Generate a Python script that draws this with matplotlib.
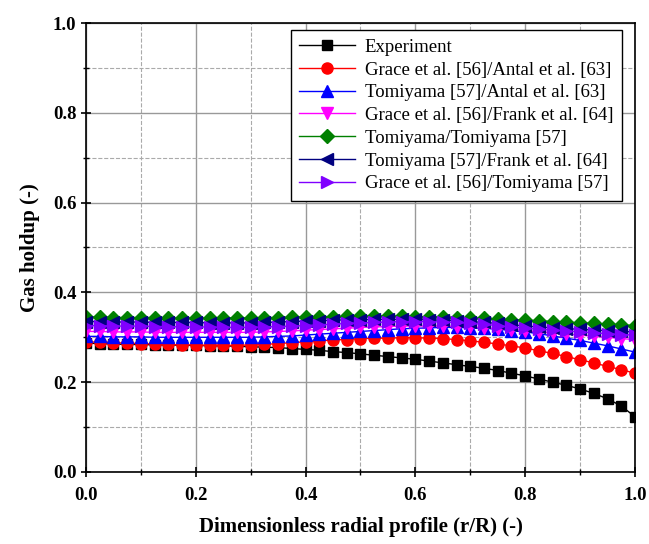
import numpy as np
import matplotlib
matplotlib.use("Agg")
import matplotlib.pyplot as plt
from matplotlib.ticker import MultipleLocator

r = np.round(np.arange(41) * 0.025, 3)

experiment = [0.287, 0.286, 0.285, 0.284, 0.284, 0.283, 0.283, 0.282, 0.282, 0.281,
              0.281, 0.280, 0.279, 0.278, 0.277, 0.275, 0.273, 0.271, 0.268, 0.266,
              0.263, 0.260, 0.257, 0.254, 0.251, 0.247, 0.243, 0.239, 0.235, 0.231,
              0.226, 0.220, 0.214, 0.207, 0.200, 0.193, 0.185, 0.175, 0.163, 0.147, 0.123]
grace_antal = [0.290, 0.289, 0.288, 0.287, 0.286, 0.285, 0.284, 0.283, 0.283, 0.282,
               0.282, 0.282, 0.283, 0.284, 0.286, 0.288, 0.290, 0.292, 0.294, 0.295,
               0.297, 0.298, 0.298, 0.299, 0.299, 0.298, 0.297, 0.295, 0.292, 0.289,
               0.285, 0.281, 0.276, 0.270, 0.264, 0.257, 0.250, 0.243, 0.235, 0.228, 0.220]
tomiyama_antal = [0.302, 0.302, 0.301, 0.301, 0.301, 0.300, 0.300, 0.300, 0.300, 0.300,
                  0.300, 0.300, 0.300, 0.301, 0.302, 0.303, 0.305, 0.307, 0.309, 0.311,
                  0.313, 0.315, 0.317, 0.319, 0.320, 0.321, 0.322, 0.322, 0.321, 0.320,
                  0.318, 0.315, 0.312, 0.308, 0.303, 0.298, 0.293, 0.287, 0.281, 0.274, 0.267]
grace_frank = [0.313, 0.313, 0.312, 0.312, 0.312, 0.311, 0.311, 0.311, 0.311, 0.311,
               0.311, 0.311, 0.311, 0.312, 0.313, 0.314, 0.316, 0.317, 0.319, 0.320,
               0.322, 0.323, 0.324, 0.325, 0.325, 0.325, 0.325, 0.324, 0.323, 0.321,
               0.319, 0.317, 0.315, 0.312, 0.310, 0.307, 0.305, 0.302, 0.300, 0.297, 0.295]
tomiyama_tomiyama = [0.345, 0.345, 0.344, 0.344, 0.344, 0.344, 0.343, 0.343, 0.343, 0.343,
                     0.343, 0.343, 0.343, 0.344, 0.344, 0.345, 0.345, 0.346, 0.346, 0.347,
                     0.347, 0.347, 0.347, 0.347, 0.346, 0.346, 0.345, 0.344, 0.343, 0.342,
                     0.341, 0.339, 0.338, 0.337, 0.335, 0.334, 0.332, 0.331, 0.329, 0.328, 0.326]
tomiyama_frank = [0.335, 0.335, 0.334, 0.334, 0.334, 0.333, 0.333, 0.333, 0.333, 0.332,
                  0.332, 0.332, 0.332, 0.333, 0.334, 0.335, 0.336, 0.337, 0.338, 0.339,
                  0.339, 0.340, 0.340, 0.340, 0.340, 0.339, 0.338, 0.337, 0.335, 0.333,
                  0.331, 0.328, 0.325, 0.323, 0.321, 0.319, 0.318, 0.316, 0.315, 0.313, 0.312]
grace_tomiyama = [0.326, 0.326, 0.325, 0.325, 0.325, 0.324, 0.324, 0.323, 0.323, 0.323,
                  0.322, 0.322, 0.322, 0.323, 0.324, 0.325, 0.326, 0.328, 0.329, 0.331,
                  0.332, 0.333, 0.334, 0.335, 0.335, 0.335, 0.334, 0.333, 0.331, 0.329,
                  0.326, 0.323, 0.320, 0.318, 0.316, 0.314, 0.312, 0.310, 0.308, 0.306, 0.305]

labels = ["Experiment",
          "Grace et al. [56]/Antal et al. [63]",
          "Tomiyama [57]/Antal et al. [63]",
          "Grace et al. [56]/Frank et al. [64]",
          "Tomiyama/Tomiyama [57]",
          "Tomiyama [57]/Frank et al. [64]",
          "Grace et al. [56]/Tomiyama [57]"]
series = [experiment, grace_antal, tomiyama_antal, grace_frank,
          tomiyama_tomiyama, tomiyama_frank, grace_tomiyama]
colors = ["black", "red", "blue", "magenta", "green", "#000080", "#8000ff"]
markers = ["s", "o", "^", "v", "D", "<", ">"]
msizes = [7, 8, 8, 8, 7, 8, 8]

plt.rcParams['font.family'] = ['Liberation Serif', 'DejaVu Serif']
fig = plt.figure(figsize=(6.49, 5.44), dpi=100)
ax = fig.add_axes([0.1325, 0.1324, 0.8459, 0.8253])

for y, c, m, ms, lab in zip(series, colors, markers, msizes, labels):
    ax.plot(r, y, color=c, marker=m, markersize=ms, linewidth=1.0,
            markeredgecolor=c, label=lab)

ax.set_xlim(0, 1.0)
ax.set_ylim(0, 1.0)
ax.xaxis.set_major_locator(MultipleLocator(0.2))
ax.xaxis.set_minor_locator(MultipleLocator(0.1))
ax.yaxis.set_major_locator(MultipleLocator(0.2))
ax.yaxis.set_minor_locator(MultipleLocator(0.1))
ax.grid(which='major', color='#999999', linestyle='-', linewidth=1.0)
ax.grid(which='minor', color='#aaaaaa', linestyle='--', linewidth=0.8)
ax.set_axisbelow(True)
ax.tick_params(which='major', direction='inout', length=7, width=1.2, labelsize=13.5)
ax.tick_params(which='minor', direction='inout', length=5, width=1.0)
ax.tick_params(axis='x', which='major', pad=7)
for lbl in ax.get_xticklabels() + ax.get_yticklabels():
    lbl.set_fontweight('bold')
for s in ax.spines.values():
    s.set_linewidth(1.2)

ax.set_xlabel("Dimensionless radial profile (r/R) (-)", fontsize=15, fontweight='bold', labelpad=10)
ax.set_ylabel("Gas holdup (-)", fontsize=15, fontweight='bold', labelpad=9)

leg = ax.legend(loc='upper right', bbox_to_anchor=(0.976, 0.984), borderaxespad=0,
                fontsize=13.5, frameon=True, fancybox=False, edgecolor='black', framealpha=1,
                handlelength=3.0, borderpad=0.45, labelspacing=0.3, handletextpad=0.5)
leg.get_frame().set_linewidth(1.0)

fig.savefig("out.png", dpi=100)
